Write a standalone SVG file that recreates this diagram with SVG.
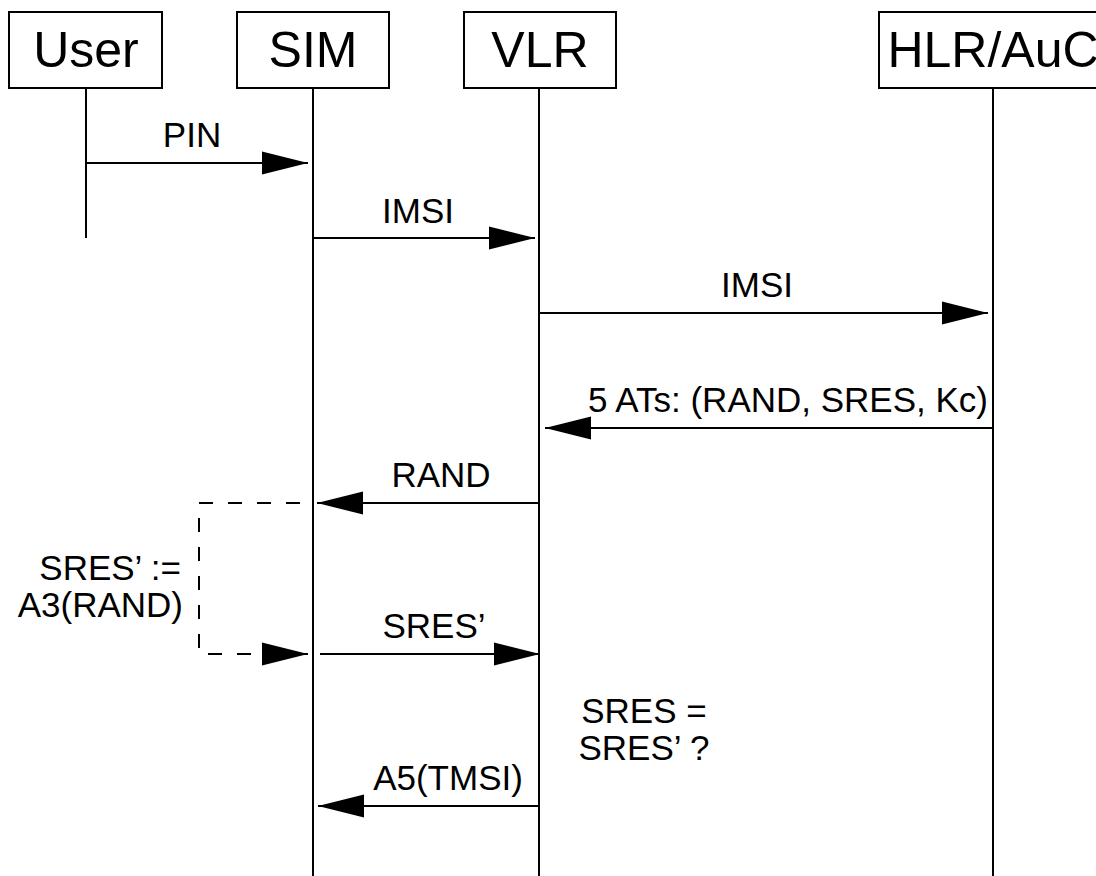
<svg xmlns="http://www.w3.org/2000/svg" width="1096" height="876" viewBox="0 0 1096 876">
<style>
.box{fill:#fff;stroke:#000;stroke-width:2}
.life{stroke:#000;stroke-width:2;fill:none}
.msg{stroke:#000;stroke-width:2;fill:none;marker-end:url(#ah)}
.dash{stroke:#000;stroke-width:2;fill:none;stroke-dasharray:14 15;stroke-dashoffset:16;marker-end:url(#ah)}
.hd{font-family:"Liberation Sans",Arial,sans-serif;font-size:50px;text-anchor:middle;fill:#000}
.lb{font-family:"Liberation Sans",Arial,sans-serif;font-size:35px;text-anchor:middle;fill:#000}
.rt{text-anchor:end}
</style>
<defs>
<marker id="ah" markerUnits="userSpaceOnUse" markerWidth="46" markerHeight="24" refX="46" refY="12" orient="auto" overflow="visible">
<path d="M0,0.5 L46,12 L0,23.5 Z" fill="#000"/>
</marker>
</defs>
<rect width="1096" height="876" fill="#fff"/>
<g id="user">
<rect class="box" x="9" y="12" width="153" height="76"/>
<text class="hd" x="86" y="67">User</text>
<line class="life" x1="86" y1="88" x2="86" y2="238"/>
</g>
<g id="sim">
<rect class="box" x="237" y="12" width="152" height="76"/>
<text class="hd" x="313" y="67">SIM</text>
<line class="life" x1="313" y1="88" x2="313" y2="876"/>
</g>
<g id="vlr">
<rect class="box" x="464" y="12" width="152" height="76"/>
<text class="hd" x="540" y="67">VLR</text>
<line class="life" x1="539" y1="88" x2="539" y2="876"/>
</g>
<g id="hlr">
<rect class="box" x="879" y="12" width="230" height="76"/>
<text class="hd" x="993" y="67">HLR/AuC</text>
<line class="life" x1="993" y1="88" x2="993" y2="876"/>
</g>
<g id="connectors">
<line class="msg" x1="86" y1="163" x2="308" y2="163"/>
<line class="msg" x1="313" y1="238" x2="535" y2="238"/>
<line class="msg" x1="539" y1="313" x2="988" y2="313"/>
<line class="msg" x1="993" y1="428" x2="545" y2="428"/>
<line class="msg" x1="539" y1="503" x2="317" y2="503"/>
<path class="dash" d="M313,503 H199 V654 H308"/>
<line class="msg" x1="320" y1="654" x2="540" y2="654"/>
<line class="msg" x1="539" y1="806" x2="318" y2="806"/>
</g>
<g id="labels">
<text class="lb" x="192" y="147">PIN</text>
<text class="lb" x="418" y="223">IMSI</text>
<text class="lb" x="757" y="297">IMSI</text>
<text class="lb" x="788" y="412">5 ATs: (RAND, SRES, Kc)</text>
<text class="lb" x="441" y="487">RAND</text>
<text class="lb" x="434" y="638">SRES’</text>
<text class="lb" x="448" y="790">A5(TMSI)</text>
<text class="lb rt" x="181" y="580">SRES’ :=</text>
<text class="lb rt" x="183" y="617">A3(RAND)</text>
<text class="lb" x="644" y="723">SRES =</text>
<text class="lb" x="644" y="760">SRES’ ?</text>
</g>
</svg>
